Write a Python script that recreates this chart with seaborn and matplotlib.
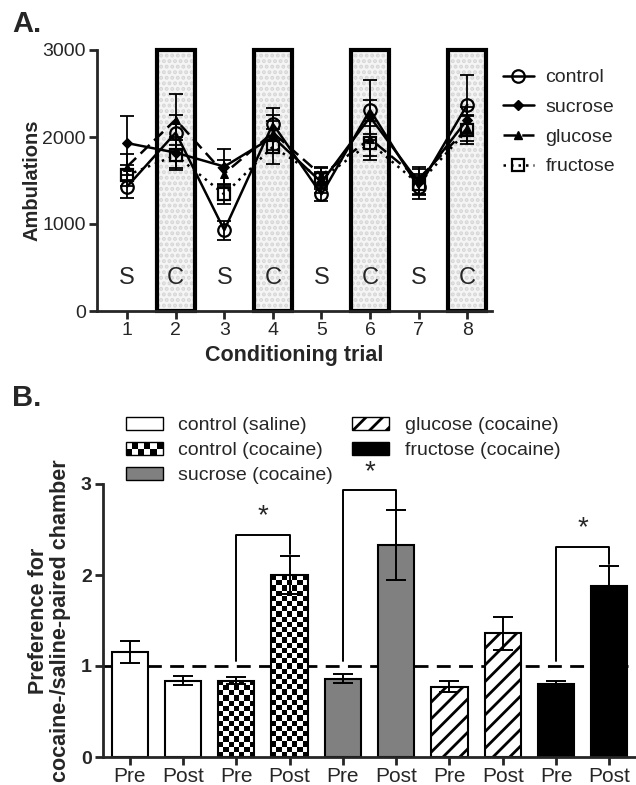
import numpy as np
import pandas as pd
import matplotlib
matplotlib.use('Agg')
import matplotlib.pyplot as plt
import seaborn as sns
from matplotlib.patches import Rectangle, Patch
from matplotlib.lines import Line2D
from matplotlib.legend_handler import HandlerBase

# ---- panel A data: ambulations per conditioning trial (mean, sem)
trials = [1, 2, 3, 4, 5, 6, 7, 8]
phase = ['S', 'C', 'S', 'C', 'S', 'C', 'S', 'C']
groups = ['control', 'sucrose', 'glucose', 'fructose']
control = [1430, 2050, 930, 2150, 1340, 2310, 1420, 2370]
sucrose = [1930, 1820, 1660, 2000, 1480, 2230, 1480, 2200]
glucose = [1660, 2200, 1580, 2050, 1560, 1980, 1520, 2100]
fructose = [1560, 1790, 1340, 1890, 1520, 1930, 1460, 2080]
control_sem = [130, 200, 110, 180, 80, 350, 130, 340]
sucrose_sem = [310, 180, 200, 180, 120, 200, 150, 150]
glucose_sem = [150, 290, 150, 200, 100, 200, 130, 150]
fructose_sem = [120, 170, 110, 200, 120, 200, 120, 160]

# ---- panel B data: preference ratio pre / post conditioning
bar_groups = ['control (saline)', 'control (cocaine)', 'sucrose (cocaine)',
              'glucose (cocaine)', 'fructose (cocaine)']
tests = ['Pre', 'Post']
pref_pre = [1.15, 0.84, 0.86, 0.77, 0.80]
pref_post = [0.84, 2.00, 2.33, 1.36, 1.88]
sem_pre = [0.12, 0.04, 0.05, 0.06, 0.04]
sem_post = [0.05, 0.21, 0.38, 0.18, 0.22]
sig_groups = [1, 2, 4]
sig_tops = [2.44, 2.93, 2.31]

sns.set_style('ticks')
plt.rcParams['font.family'] = ['Liberation Sans', 'DejaVu Sans']
plt.rcParams['hatch.linewidth'] = 2.0
plt.rcParams['axes.linewidth'] = 2.0

fig = plt.figure(figsize=(6.36, 7.85), dpi=100)

# ================= Panel A =================
axA = fig.add_axes([97/636, 1-311/785, (492-97)/636, (311-50)/785])
means = {'control': control, 'sucrose': sucrose, 'glucose': glucose, 'fructose': fructose}
sems = {'control': control_sem, 'sucrose': sucrose_sem, 'glucose': glucose_sem, 'fructose': fructose_sem}
styles = {
    'control': dict(marker='o', linestyle='-', markerfacecolor='none', markersize=9, markeredgewidth=1.6),
    'sucrose': dict(marker='D', linestyle='-', markerfacecolor='black', markersize=5),
    'glucose': dict(marker='^', linestyle=(0, (5, 2.5)), markerfacecolor='black', markersize=6),
    'fructose': dict(marker='s', linestyle=(0, (1, 2)), markerfacecolor='none', markersize=8, markeredgewidth=1.6),
}

# shaded cocaine-paired sessions
for t, p in zip(trials, phase):
    if p == 'C':
        axA.add_patch(Rectangle((t - 0.39, 0), 0.78, 3000, facecolor='#f5f5f5', edgecolor='#d6d6d6',
                                hatch='...', linewidth=0, zorder=0.5, clip_on=False))
        axA.add_patch(Rectangle((t - 0.39, 0), 0.78, 3000, facecolor='none', edgecolor='black',
                                linewidth=3, zorder=0.6, clip_on=False))
    axA.text(t, 380, p, ha='center', va='center', fontsize=17, zorder=1)

for g in groups:
    axA.errorbar(trials, means[g], yerr=sems[g], fmt='none', ecolor='black',
                 elinewidth=1.3, capsize=5, capthick=1.3, zorder=2)
    sns.lineplot(x=trials, y=means[g], ax=axA, color='black', linewidth=1.8,
                 markeredgecolor='black', label=g, zorder=3, **styles[g])

axA.set_xlim(0.38, 8.51)
axA.set_ylim(0, 3000)
axA.set_xticks(trials)
axA.set_yticks([0, 1000, 2000, 3000])
axA.tick_params(labelsize=14, width=2, length=6, pad=2)
axA.set_xlabel('Conditioning trial', fontsize=15.5, fontweight='bold', labelpad=4)
axA.set_ylabel('Ambulations', fontsize=14.5, fontweight='bold', labelpad=1)
sns.despine(ax=axA)
axA.get_legend().remove()
hA = [Line2D([0], [0], color='black', linewidth=1.8, markeredgecolor='black', **styles[g]) for g in groups]
fig.legend(hA, groups, loc='upper left', bbox_to_anchor=(493/636, 1-59/785), frameon=False,
           fontsize=14, handlelength=1.6, handletextpad=0.6, labelspacing=0.62, borderpad=0)

fig.text(12/636, 1-24/785, 'A.', fontsize=21, fontweight='bold', va='center')

# ================= Panel B =================
axB = fig.add_axes([103/636, 1-757/785, (636-103)/636, (757-484)/785])
rows = []
for i, g in enumerate(bar_groups):
    rows.append({'key': f'{i}-Pre', 'group': g, 'test': 'Pre', 'value': pref_pre[i], 'sem': sem_pre[i]})
    rows.append({'key': f'{i}-Post', 'group': g, 'test': 'Post', 'value': pref_post[i], 'sem': sem_post[i]})
dfB = pd.DataFrame(rows)
sns.barplot(data=dfB, x='key', y='value', ax=axB, color='white', edgecolor='black',
            linewidth=1.5, width=0.68, errorbar=None, saturation=1)
axB.set_xlim(-0.5, 9.5)
axB.set_ylim(0, 3)
fig.canvas.draw()

face = {0: 'white', 1: 'white', 2: '#808080', 3: 'white', 4: 'black'}
for j, p in enumerate(axB.patches[:len(dfB)]):
    gi = j // 2
    p.set_facecolor(face[gi])
    p.set_zorder(2)
    if gi == 3:
        p.set_hatch('//')
    if gi == 1:
        # checkerboard fill clipped to the bar
        x0, w, h = p.get_x(), p.get_width(), p.get_height()
        px0 = axB.transData.transform((x0, 0))
        px1 = axB.transData.transform((x0 + w, h))
        ncol = max(1, int(round((px1[0] - px0[0]) / 5.2)))
        nrow = max(1, int(round((px1[1] - px0[1]) / 5.2)))
        chk = np.indices((nrow, ncol)).sum(axis=0) % 2
        p.set_facecolor('none')
        im = axB.imshow(chk, extent=[x0, x0 + w, 0, h], cmap='gray', interpolation='nearest',
                        aspect='auto', zorder=1.9, origin='lower')
        im.set_clip_path(p)
axB.set_xlim(-0.5, 9.5)
axB.set_ylim(0, 3)

axB.errorbar(np.arange(len(dfB)), dfB['value'], yerr=dfB['sem'], fmt='none', ecolor='black',
             elinewidth=1.4, capsize=7, capthick=1.4, zorder=3)
axB.axhline(1.0, color='black', linestyle=(0, (5, 3)), linewidth=2, zorder=1.5, clip_on=False)

for gi, top in zip(sig_groups, sig_tops):
    xa, xb = 2 * gi, 2 * gi + 1
    axB.plot([xa, xa, xb, xb], [1.05, top, top, pref_post[gi] + sem_post[gi] + 0.02],
             color='black', linewidth=1.4, zorder=3, clip_on=False)
    axB.text((xa + xb) / 2, top + 0.06, '*', ha='center', va='bottom', fontsize=20, clip_on=False)

axB.set_xticks(range(len(dfB)))
axB.set_xticklabels(dfB['test'])
axB.set_yticks([0, 1, 2, 3])
axB.tick_params(axis='x', labelsize=15, width=2, length=6, pad=1)
axB.tick_params(axis='y', labelsize=14, width=2, length=6, pad=2)
for lab in axB.get_yticklabels():
    lab.set_fontweight('bold')
axB.set_xlabel('')
axB.set_ylabel('Preference for\ncocaine-/saline-paired chamber', fontsize=15.5,
               fontweight='bold', labelpad=7, linespacing=1.05)
sns.despine(ax=axB)
axB.spines['bottom'].set_bounds(-0.5, 9.5)


class CheckerHandler(HandlerBase):
    def create_artists(self, legend, orig, xd, yd, width, height, fontsize, trans):
        arts = [Rectangle((xd, yd), width, height, facecolor='white', edgecolor='black',
                          linewidth=1, transform=trans)]
        nc, nr = 6, 2
        cw, ch = width / nc, height / nr
        for r in range(nr):
            for c in range(nc):
                if (r + c) % 2 == 0:
                    arts.append(Rectangle((xd + c * cw, yd + r * ch), cw, ch, facecolor='black',
                                          edgecolor='none', transform=trans))
        return arts


hB = [Patch(facecolor='white', edgecolor='black', linewidth=1),
      Patch(facecolor='white', edgecolor='black'),
      Patch(facecolor='#808080', edgecolor='black', linewidth=1),
      Patch(facecolor='white', edgecolor='black', hatch='//', linewidth=1),
      Patch(facecolor='black', edgecolor='black', linewidth=1)]
fig.legend(hB, bar_groups, loc='upper left', bbox_to_anchor=(116/636, 1-407/785), ncol=2,
           frameon=False, fontsize=14, handlelength=1.9, handleheight=0.7, handletextpad=0.8,
           labelspacing=0.38, columnspacing=1.0, borderpad=0,
           handler_map={hB[1]: CheckerHandler()})

fig.text(12/636, 1-398/785, 'B.', fontsize=21, fontweight='bold', va='center')

fig.savefig('out.png', dpi=100)
